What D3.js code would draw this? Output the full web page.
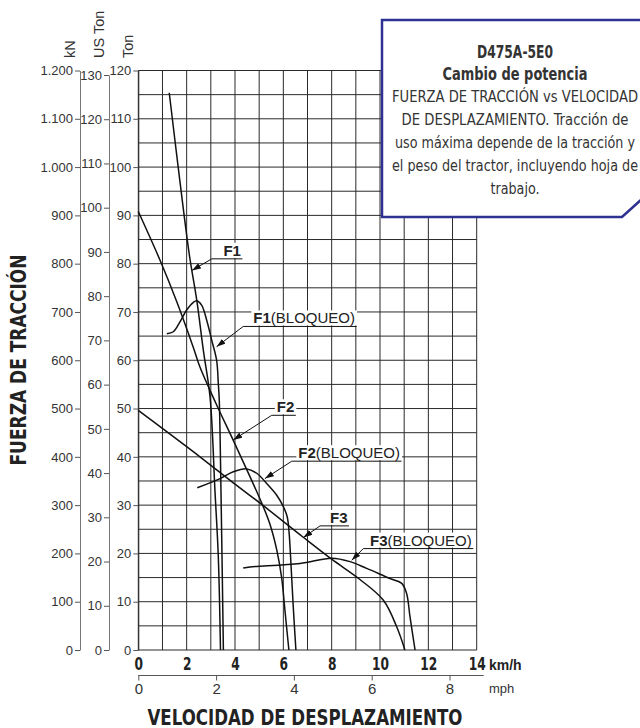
<!DOCTYPE html>
<html>
<head>
<meta charset="utf-8">
<script src="https://cdn.jsdelivr.net/npm/d3@7"></script>
<style>
  body { margin: 0; background: #fff; }
  svg { display: block; font-family: "Liberation Sans", Arial, sans-serif; }
  .narrow { font-family: "DejaVu Sans Condensed", "Liberation Sans Narrow", sans-serif; }
</style>
</head>
<body>
<div class="graph"></div>
<script>
// tick values
var kmhTicks = [0, 2, 4, 6, 8, 10, 12, 14];
var mphTicks = [0, 2, 4, 6, 8];
var knTicks = d3.range(0, 1201, 100);
var usTonTicks = d3.range(0, 131, 10);
var tonTicks = d3.range(0, 121, 10);

// curves: [km/h, Ton]
var f1 = [[1.28, 115.4], [1.65, 100.0], [2.11, 81.9], [2.42, 72.4], [2.69, 62.1],
          [2.97, 52.3], [3.17, 33.1], [3.31, 19.3], [3.40, 0]];
var f1Lock = [[1.18, 65.5], [1.45, 65.9], [1.73, 68.0], [2.0, 70.4], [2.28, 72.0], [2.42, 72.3],
              [2.62, 71.4], [2.83, 68.3], [3.04, 64.1], [3.24, 60.0], [3.31, 55.2],
              [3.35, 51.7], [3.42, 33.1], [3.52, 0]];
var f2 = [[0, 90.8], [0.9, 80.7], [1.6, 72.0], [2.28, 62.6], [2.55, 58.6], [3.2, 51.2],
          [3.93, 43.4], [4.62, 35.9], [5.11, 30.4], [5.45, 26.0], [5.73, 20.7],
          [5.93, 15.0], [6.08, 7.5], [6.23, 0]];
var f2Lock = [[2.44, 33.6], [3.38, 35.5], [3.93, 36.9], [4.49, 37.5], [4.9, 36.6], [5.31, 34.5],
              [5.72, 32.1], [6.0, 29.7], [6.16, 27.6], [6.24, 24.2], [6.30, 19.3],
              [6.41, 9.0], [6.52, 0]];
var f3 = [[0, 49.6], [2.55, 40.0], [3.93, 34.6], [5.04, 30.4], [6.81, 23.4], [8.0, 18.8],
          [9.17, 14.6], [10.14, 10.3], [10.69, 4.8], [11.03, 0]];
var f3Lock = [[4.34, 17.0], [4.62, 17.2], [6.69, 17.9], [8.0, 19.0], [8.76, 18.3], [9.45, 16.9],
              [10.41, 14.8], [10.9, 13.8], [11.1, 11.7], [11.24, 6.9], [11.45, 0]];

var series = [f1, f1Lock, f2, f2Lock, f3, f3Lock];

var labels = [
  {bold: "F1", rest: "", tip: [2.22, 78.6], elbow: [3.04, 81.0], textX: 3.52},
  {bold: "F1", rest: "(BLOQUEO)", tip: [3.24, 62.8], elbow: [4.34, 67.0], textX: 4.76},
  {bold: "F2", rest: "", tip: [3.93, 43.5], elbow: [5.52, 48.6], textX: 5.73},
  {bold: "F2", rest: "(BLOQUEO)", tip: [5.24, 35.5], elbow: [6.35, 39.1], textX: 6.62},
  {bold: "F3", rest: "", tip: [6.83, 23.3], elbow: [7.52, 25.7], textX: 7.93},
  {bold: "F3", rest: "(BLOQUEO)", tip: [8.83, 18.6], elbow: [9.31, 21.0], textX: 9.59}
];

var boxBold = ["D475A-5E0", "Cambio de potencia"];
var boxLines = ["FUERZA DE TRACCIÓN vs VELOCIDAD", "DE DESPLAZAMIENTO. Tracción de",
                "uso máxima depende de la tracción y", "el peso del tractor, incluyendo hoja de",
                "trabajo."];

// widths of the condensed lines in the box
var boxBoldWidths = [76, 145];
var boxLineWidths = [246, 227, 240, 246, 49];

var width = 640, height = 728;

var x = d3.scaleLinear().domain([0, 14]).range([138.3, 476.7]);
var y = d3.scaleLinear().domain([0, 120]).range([650, 70.5]);
var kn = d3.scaleLinear().domain([0, 1200]).range([650, 70.5]);
var usTon = d3.scaleLinear().domain([0, 130]).range([650, 75]);
var mph = d3.scaleLinear().domain([0, 14 / 1.609344]).range([138.3, 476.7]);

var esLocale = d3.formatLocale({decimal: ",", thousands: ".", grouping: [3], currency: ["", ""]});

var svg = d3.select(".graph").append("svg")
    .attr("width", width)
    .attr("height", height);

var defs = svg.append("defs");
defs.append("marker")
    .attr("id", "arrow")
    .attr("markerUnits", "userSpaceOnUse")
    .attr("markerWidth", 10).attr("markerHeight", 8)
    .attr("refX", 9).attr("refY", 3)
    .attr("orient", "auto")
  .append("path")
    .attr("d", "M0,0L9,3L0,6Z")
    .attr("fill", "#111");

// grid
var grid = svg.append("g").attr("stroke", "#2a2a2a").attr("stroke-width", 1);
grid.selectAll(".vx").data(d3.range(0, 15)).enter().append("line")
    .attr("x1", function(d) { return x(d); })
    .attr("x2", function(d) { return x(d); })
    .attr("y1", y(0)).attr("y2", y(120));
grid.selectAll(".hy").data(d3.range(0, 121, 5)).enter().append("line")
    .attr("x1", x(0)).attr("x2", x(14))
    .attr("y1", function(d) { return y(d); })
    .attr("y2", function(d) { return y(d); });

// left axes
function styleAxis(g, size) {
  g.select(".domain").attr("stroke", "#777");
  g.selectAll(".tick line").attr("stroke", "#555");
  g.selectAll(".tick text").attr("fill", "#333").style("font-size", size + "px");
}

svg.append("g")
    .attr("transform", "translate(80,0)")
    .call(d3.axisLeft(kn).tickValues(knTicks).tickSize(5).tickSizeOuter(0).tickPadding(2)
      .tickFormat(esLocale.format(",d")))
    .call(styleAxis, 13);

svg.append("g")
    .attr("transform", "translate(109,0)")
    .call(d3.axisLeft(usTon).tickValues(usTonTicks).tickSize(5).tickSizeOuter(0).tickPadding(2))
    .call(styleAxis, 13);

svg.append("g")
    .attr("transform", "translate(" + x(0) + ",0)")
    .call(d3.axisLeft(y).tickValues(tonTicks).tickSize(5).tickSizeOuter(0).tickPadding(2))
    .call(styleAxis, 13)
    .select(".domain").attr("stroke", "#2a2a2a");

// unit names
[["kN", 75], ["US Ton", 104], ["Ton", 133]].forEach(function(u) {
  svg.append("text")
      .attr("transform", "translate(" + u[1] + ",58) rotate(-90)")
      .attr("fill", "#333")
      .style("font-size", "14.5px")
      .text(u[0]);
});

// km/h labels
var xAxis = svg.append("g")
    .attr("transform", "translate(0," + y(0) + ")")
    .call(d3.axisBottom(x).tickValues(kmhTicks).tickSize(0).tickPadding(7));
xAxis.select(".domain").remove();
xAxis.selectAll(".tick text")
    .attr("class", "narrow")
    .attr("fill", "#222")
    .attr("textLength", function(d) { return d < 10 ? 8.5 : 17; })
    .attr("lengthAdjust", "spacingAndGlyphs")
    .style("font-size", "18px")
    .style("font-weight", "bold");

// mph axis
var mAxis = svg.append("g")
    .attr("transform", "translate(0,675.5)")
    .call(d3.axisBottom(mph).tickValues(mphTicks).tickSize(5).tickSizeOuter(0).tickPadding(3));
mAxis.select(".domain").remove();
mAxis.append("line")
    .attr("x1", mph(0)).attr("x2", x(14) + 7)
    .attr("stroke", "#555");
mAxis.selectAll(".tick line").attr("stroke", "#555");
mAxis.selectAll(".tick text").attr("fill", "#333").style("font-size", "15px");

svg.append("text")
    .attr("x", 489).attr("y", 670)
    .attr("fill", "#222")
    .style("font-size", "14px").style("font-weight", "bold")
    .text("km/h");
svg.append("text")
    .attr("x", 489).attr("y", 693)
    .attr("fill", "#333")
    .style("font-size", "13px")
    .text("mph");

// curves
var line = d3.line()
    .x(function(d) { return x(d[0]); })
    .y(function(d) { return y(d[1]); })
    .curve(d3.curveCatmullRom.alpha(0.5));

svg.selectAll(".curve").data(series).enter().append("path")
    .attr("class", "curve")
    .attr("d", line)
    .attr("fill", "none")
    .attr("stroke", "#111")
    .attr("stroke-width", 1.5);

// curve labels
labels.forEach(function(l) {
  var g = svg.append("g");
  var ex = x(l.elbow[0]), ey = y(l.elbow[1]);
  var bg = g.append("rect").attr("fill", "#fff");
  var t = g.append("text")
      .attr("x", x(l.textX)).attr("y", ey - 3)
      .attr("fill", "#222")
      .style("font-size", "15px");
  t.append("tspan").style("font-weight", "bold").text(l.bold);
  if (l.rest) t.append("tspan").text(l.rest);
  var w = t.node().getComputedTextLength();
  var endX = x(l.textX) + w + 1.5;
  bg.attr("x", x(l.textX) - 2).attr("y", ey - 16).attr("width", w + 4).attr("height", 15);
  g.append("path")
      .attr("d", "M" + endX + "," + ey + "H" + ex + "L" + x(l.tip[0]) + "," + y(l.tip[1]))
      .attr("fill", "none")
      .attr("stroke", "#111")
      .attr("stroke-width", 1)
      .attr("marker-end", "url(#arrow)");
});

// info box
svg.append("path")
    .attr("d", "M382,20H643V198L622,217H382Z")
    .attr("fill", "#fff")
    .attr("stroke", "#2e3192")
    .attr("stroke-width", 2.5);

var boxText = svg.append("g").attr("class", "narrow").attr("fill", "#333").attr("text-anchor", "middle");
boxText.selectAll(".b").data(boxBold).enter().append("text")
    .attr("x", 515)
    .attr("y", function(d, i) { return 57.5 + i * 22.5; })
    .attr("textLength", function(d, i) { return boxBoldWidths[i]; })
    .attr("lengthAdjust", "spacingAndGlyphs")
    .style("font-size", "17px").style("font-weight", "bold")
    .text(function(d) { return d; });
boxText.selectAll(".r").data(boxLines).enter().append("text")
    .attr("x", 515)
    .attr("y", function(d, i) { return 101.5 + i * 23.1; })
    .attr("textLength", function(d, i) { return boxLineWidths[i]; })
    .attr("lengthAdjust", "spacingAndGlyphs")
    .style("font-size", "16px")
    .text(function(d) { return d; });

// axis titles
svg.append("text")
    .attr("class", "narrow")
    .attr("transform", "translate(26,360) rotate(-90)")
    .attr("text-anchor", "middle")
    .attr("textLength", 211).attr("lengthAdjust", "spacingAndGlyphs")
    .attr("fill", "#222")
    .style("font-size", "21px").style("font-weight", "bold")
    .text("FUERZA DE TRACCIÓN");

svg.append("text")
    .attr("class", "narrow")
    .attr("x", 305).attr("y", 725)
    .attr("text-anchor", "middle")
    .attr("textLength", 315).attr("lengthAdjust", "spacingAndGlyphs")
    .attr("fill", "#222")
    .style("font-size", "21px").style("font-weight", "bold")
    .text("VELOCIDAD DE DESPLAZAMIENTO");
</script>
</body>
</html>
